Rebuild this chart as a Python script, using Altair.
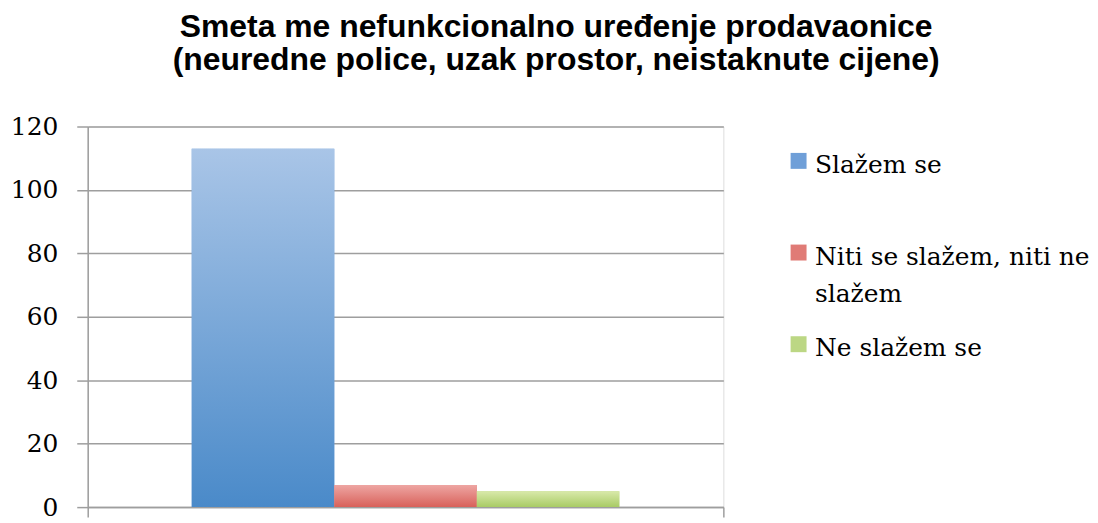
import altair as alt
import pandas as pd

title_lines = ["Smeta me nefunkcionalno uređenje prodavaonice",
               "(neuredne police, uzak prostor, neistaknute cijene)"]
group = ["Smeta me nefunkcionalno uređenje"]
series = ["Slažem se", "Niti se slažem, niti ne slažem", "Ne slažem se"]
values = [113, 7, 5]
y_ticks = [0, 20, 40, 60, 80, 100, 120]

legend_colors = ["#6f9fd8", "#e07b76", "#bcd784"]
grad_top = ["#a9c5e7", "#eea6a3", "#d9e9aa"]
grad_bottom = ["#4a8ac9", "#d8615a", "#a8cb64"]

GRAY = "#9e9e9e"

df = pd.DataFrame({"group": group * len(series), "series": series, "value": values})


def grad(top, bottom):
    return {"gradient": "linear", "x1": 0, "y1": 0, "x2": 0, "y2": 1,
            "stops": [{"offset": 0, "color": top}, {"offset": 1, "color": bottom}]}


fill_def = alt.FillValue(
    condition=[{"test": f"datum.series === '{s}'", "value": grad(t, b)}
               for s, t, b in zip(series[:-1], grad_top[:-1], grad_bottom[:-1])],
    value=grad(grad_top[-1], grad_bottom[-1]),
)

x_enc = alt.X("group:N", title=None,
              scale=alt.Scale(paddingInner=0, paddingOuter=0),
              axis=alt.Axis(labels=False, tickBand="extent", tickSize=10,
                            tickColor=GRAY, tickWidth=1.5, domainColor=GRAY,
                            domainWidth=1.5, grid=False))
xoff_enc = alt.XOffset("series:N", sort=series,
                       scale=alt.Scale(paddingInner=0, paddingOuter=0.73))
y_enc = alt.Y("value:Q", title=None,
              scale=alt.Scale(domain=[0, 120], nice=False),
              axis=alt.Axis(values=y_ticks, labelFont="DejaVu Serif",
                            labelFontSize=25, labelColor="#000000",
                            labelPadding=19, tickSize=11, tickColor=GRAY,
                            tickWidth=1.5, domainColor=GRAY, domainWidth=1.5,
                            gridColor=GRAY, gridWidth=1.5))

base = alt.Chart(df).encode(x=x_enc, xOffset=xoff_enc, y=y_enc)

legend_bars = base.mark_bar().encode(
    color=alt.Color("series:N", sort=series,
                    scale=alt.Scale(domain=series, range=legend_colors),
                    legend=alt.Legend(
                        title=None, orient="none", legendX=701, legendY=14,
                        symbolType="M-1,0H1V2H-1Z", symbolSize=256,
                        symbolStrokeWidth=0, labelFont="DejaVu Serif",
                        labelFontSize=25, labelColor="#000000",
                        labelBaseline="top", labelOffset=4, rowPadding=16,
                        labelLimit=400, padding=0,
                        labelExpr="datum.label == 'Niti se slažem, niti ne slažem' ? ['Niti se slažem, niti ne', 'slažem'] : [datum.label, '']",
                    ))
)

grad_bars = base.mark_bar().encode(fill=fill_def)

chart = alt.layer(legend_bars, grad_bars).properties(
    width=638, height=382,
    padding={"left": 2, "top": 2, "right": 0, "bottom": 0},
    title=alt.TitleParams(text=title_lines, font="Liberation Sans", fontSize=32,
                          fontWeight="bold", color="#000000", lineHeight=33,
                          anchor="middle", frame="bounds", dx=6, offset=38),
).configure_view(stroke=None).configure(
    style={"guide-label": {"lineHeight": 38}}
)

chart.save("out.html", embed_options={"renderer": "svg", "actions": False})
